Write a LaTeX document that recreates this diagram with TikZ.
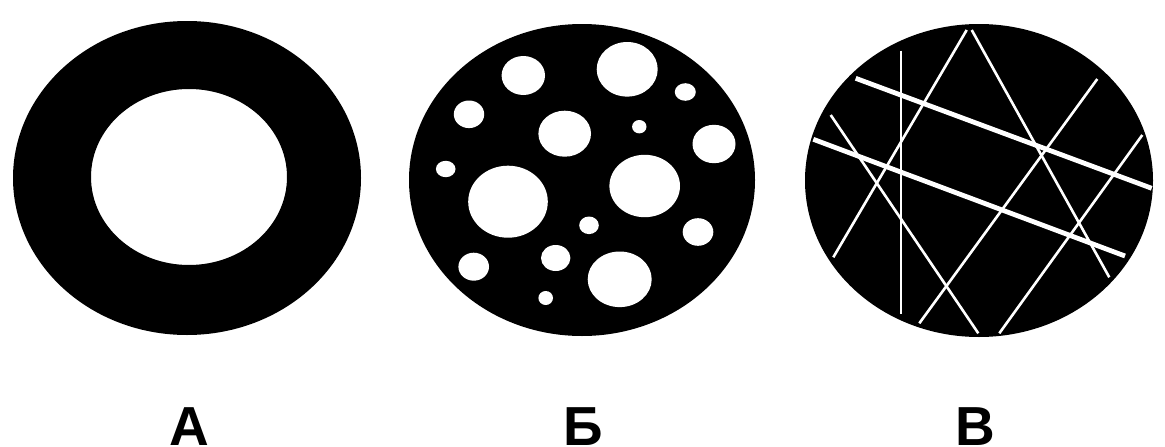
\documentclass[tikz,border=0pt]{standalone}
\usepackage{fontspec}
\setmainfont{Liberation Sans}
\begin{document}
\begin{tikzpicture}[x=1pt,y=-1pt,
  blob/.style={fill=black},
  hole/.style={fill=white},
  thinline/.style={draw=white,line width=2.6pt},
  thickline/.style={draw=white,line width=4.8pt},
  lbl/.style={font=\bfseries\fontsize{55}{55}\selectfont,anchor=base,inner sep=0pt}]
\useasboundingbox (0,0) rectangle (1165,447);
% A: ring
\fill[blob,even odd rule] (187,178) ellipse [x radius=174,y radius=157]
  (189,177) ellipse [x radius=98,y radius=88];
% B: disc with holes
\fill[blob] (582,180) ellipse [x radius=173,y radius=156];
\foreach \cx/\cy/\rx/\ry in {
  523.3/75.5/21.7/19.5, 627.2/69.3/30.5/27.3, 685.3/92/10.5/8.8,
  469/114.3/15.2/13.8, 564.7/133.7/26.3/23, 639.3/126.7/7.2/6.7,
  714/144/21.5/19.2, 445.7/169/9.8/8.2, 508/201.7/39.8/36,
  644.7/186/35.3/31.2, 589/225.3/9.8/8.8, 698/232/15.3/13.8,
  473.7/266.7/15.3/14, 555.7/258/14.7/13, 619.7/279.3/32/27.8,
  545.7/298/7.3/7}
  \fill[hole] (\cx,\cy) ellipse [x radius=\rx,y radius=\ry];
% C: disc with lines
\fill[blob] (979,180.5) ellipse [x radius=174,y radius=156.5];
\coordinate (l1a) at (901,50.7);    \coordinate (l1b) at (901,314);
\coordinate (l2a) at (966.7,30);    \coordinate (l2b) at (833.3,257.3);
\coordinate (l3a) at (971.7,30);    \coordinate (l3b) at (1109.3,277.3);
\coordinate (l4a) at (855.7,78.3);  \coordinate (l4b) at (1151.7,188.3);
\coordinate (l5a) at (813.3,139.3); \coordinate (l5b) at (1125,256);
\coordinate (l6a) at (830.7,115);   \coordinate (l6b) at (978.3,333.3);
\coordinate (l7a) at (1097.3,79);   \coordinate (l7b) at (919.3,323.3);
\coordinate (l8a) at (1142.3,135);  \coordinate (l8b) at (999.3,333.3);
\draw[thinline] (l1a) -- (l1b);
\draw[thinline] (l2a) -- (l2b);
\draw[thinline] (l3a) -- (l3b);
\draw[thinline] (l6a) -- (l6b);
\draw[thinline] (l7a) -- (l7b);
\draw[thinline] (l8a) -- (l8b);
\draw[thickline] (l4a) -- (l4b);
\draw[thickline] (l5a) -- (l5b);
% labels
\node[lbl] (la) at (189,445) {А};
\node[lbl] (lb) at (583,445) {Б};
\node[lbl] (lc) at (975,445) {В};
\end{tikzpicture}
\end{document}
